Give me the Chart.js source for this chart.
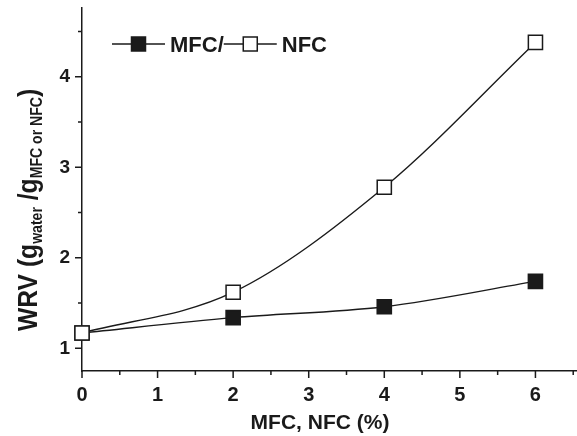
<!DOCTYPE html>
<html>
<head>
<meta charset="utf-8">
<script src="https://cdn.jsdelivr.net/npm/chart.js@4/dist/chart.umd.min.js"></script>
<style>
  html, body { margin: 0; padding: 0; background: #fff; }
  canvas { display: block; }
</style>
</head>
<body>
<canvas id="wrv" width="577" height="436"></canvas>
<script>
const concentrations = [0, 2, 4, 6];
const mfcWrv = [1.17, 1.34, 1.46, 1.74];
const nfcWrv = [1.17, 1.62, 2.78, 4.38];
const xTicks = [0, 1, 2, 3, 4, 5, 6];
const yTicks = [1, 2, 3, 4];

const FONT = "'Liberation Sans', Arial, Helvetica, sans-serif";
const INK = '#1a1a1a';

const toPoints = vals => concentrations.map((x, i) => ({ x, y: vals[i] }));

// outward major/minor ticks, the library only does one kind
const tickMarks = {
    id: 'tickMarks',
    afterDraw(chart) {
        const { ctx, scales: { x, y } } = chart;
        ctx.save();
        ctx.strokeStyle = INK;
        ctx.lineWidth = 1.5;
        ctx.beginPath();
        for (let v = 0; v <= 6.5; v += 0.5) {
            const px = x.getPixelForValue(v);
            const len = Number.isInteger(v) ? 7 : 4;
            ctx.moveTo(px, x.top);
            ctx.lineTo(px, x.top + len);
        }
        for (let v = 1; v <= 4.5; v += 0.5) {
            const py = y.getPixelForValue(v);
            const len = Number.isInteger(v) ? 7 : 4;
            ctx.moveTo(y.right, py);
            ctx.lineTo(y.right - len, py);
        }
        ctx.stroke();
        ctx.restore();
    }
};

const axisTitles = {
    id: 'axisTitles',
    afterDraw(chart) {
        const { ctx } = chart;
        ctx.save();
        ctx.fillStyle = INK;

        // x title
        ctx.font = 'bold 21px ' + FONT;
        ctx.textAlign = 'center';
        ctx.textBaseline = 'alphabetic';
        ctx.fillText('MFC, NFC (%)', 320, 429);

        // y title with subscripts, drawn bottom to top (a bit condensed like the original)
        ctx.translate(37, 331);
        ctx.rotate(-Math.PI / 2);
        ctx.scale(0.88, 1);
        ctx.textAlign = 'left';
        const big = 'bold 28px ' + FONT;
        const small = 'bold 16px ' + FONT;
        const parts = [
            ['WRV (g', big, 0],
            ['water', small, 5],
            [' /g', big, 0],
            ['MFC or NFC', small, 5],
            [')', big, 0]
        ];
        let cx = 0;
        for (const [txt, f, dy] of parts) {
            ctx.font = f;
            ctx.fillText(txt, cx, dy);
            cx += ctx.measureText(txt).width;
        }
        ctx.restore();
    }
};

const seriesKey = {
    id: 'seriesKey',
    afterDraw(chart) {
        const { ctx } = chart;
        const yMid = 44;
        ctx.save();
        ctx.strokeStyle = INK;
        ctx.fillStyle = INK;
        ctx.lineWidth = 1.5;

        const sample = (x0, x1, filled) => {
            ctx.beginPath();
            ctx.moveTo(x0, yMid);
            ctx.lineTo(x1, yMid);
            ctx.stroke();
            const cx = (x0 + x1) / 2, s = 14;
            ctx.fillStyle = filled ? INK : '#fff';
            ctx.fillRect(cx - s / 2, yMid - s / 2, s, s);
            ctx.strokeRect(cx - s / 2, yMid - s / 2, s, s);
            ctx.fillStyle = INK;
        };

        ctx.font = 'bold 22px ' + FONT;
        ctx.textBaseline = 'alphabetic';
        sample(112, 165, true);
        ctx.fillText('MFC/', 170, 52);
        const w = ctx.measureText('MFC/').width;
        sample(170 + w, 170 + w + 53, false);
        ctx.fillText('NFC', 170 + w + 58, 52);
        ctx.restore();
    }
};

const marker = filled => ({
    borderColor: INK,
    borderWidth: 1.4,
    pointStyle: 'rect',
    pointRadius: 10,
    pointHoverRadius: 10,
    pointBorderWidth: 1.5,
    pointBackgroundColor: filled ? INK : '#fff',
    pointBorderColor: INK,
    cubicInterpolationMode: 'monotone',
    fill: false,
    clip: false
});

new Chart(document.getElementById('wrv'), {
    type: 'line',
    data: {
        datasets: [
            { label: 'MFC', data: toPoints(mfcWrv), order: 2, ...marker(true) },
            { label: 'NFC', data: toPoints(nfcWrv), order: 1, ...marker(false) }
        ]
    },
    options: {
        responsive: false,
        animation: false,
        layout: { autoPadding: false, padding: { top: 8, left: 0, right: 0, bottom: 0 } },
        plugins: {
            legend: { display: false },
            tooltip: { enabled: false }
        },
        scales: {
            x: {
                type: 'linear',
                min: 0,
                max: 6.55,
                afterBuildTicks: s => { s.ticks = xTicks.map(value => ({ value })); },
                afterFit: s => { s.height = 65; s.paddingLeft = 0; s.paddingRight = 0; },
                grid: { display: false, drawTicks: false },
                border: { display: true, color: INK, width: 1.5 },
                ticks: {
                    color: INK,
                    padding: 12,
                    maxRotation: 0,
                    font: { family: FONT, size: 20, weight: 'bold' }
                }
            },
            y: {
                type: 'linear',
                min: 0.75,
                max: 4.76,
                afterBuildTicks: s => { s.ticks = yTicks.map(value => ({ value })); },
                afterFit: s => { s.width = 82; s.paddingTop = 0; s.paddingBottom = 0; },
                grid: { display: false, drawTicks: false },
                border: { display: true, color: INK, width: 1.5 },
                ticks: {
                    color: INK,
                    padding: 12,
                    font: { family: FONT, size: 19, weight: 'bold' }
                }
            }
        }
    },
    plugins: [tickMarks, axisTitles, seriesKey]
});
</script>
</body>
</html>
